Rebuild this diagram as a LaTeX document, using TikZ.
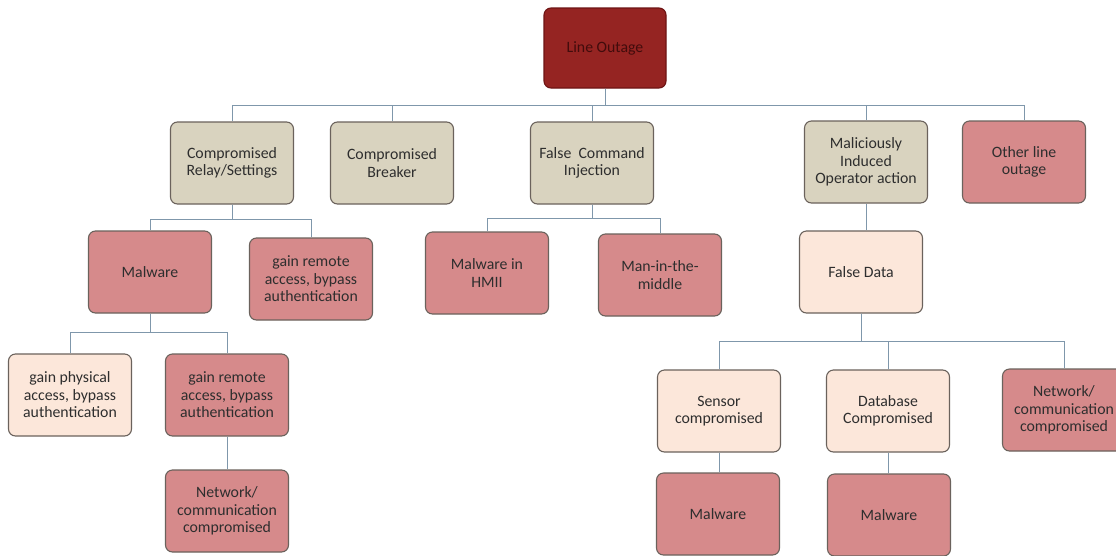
\documentclass[tikz,border=0pt]{standalone}
\usepackage{fontspec}
\setmainfont{Carlito}
\definecolor{rootfill}{HTML}{952422}
\definecolor{rootline}{HTML}{6E1414}
\definecolor{tanfill}{HTML}{D9D3BF}
\definecolor{pinkfill}{HTML}{D68A8B}
\definecolor{peachfill}{HTML}{FCE7DA}
\definecolor{boxline}{HTML}{6B625C}
\definecolor{connline}{HTML}{7F97AB}
\definecolor{txt}{HTML}{2E2E2E}
\tikzset{
  box/.style={draw=boxline, rounded corners=7pt, line width=1.1pt,
    minimum width=123pt, minimum height=82pt, align=center,
    text=txt, font=\fontsize{15.8}{17.5}\selectfont},
  rootbox/.style={box, fill=rootfill, draw=rootline, minimum width=122pt,
    minimum height=80pt, text=rootline!60!black},
  tanbox/.style={box, fill=tanfill},
  pinkbox/.style={box, fill=pinkfill},
  peachbox/.style={box, fill=peachfill},
  conn/.style={draw=connline, line width=1pt}
}
\begin{document}
\begin{tikzpicture}[x=1pt,y=-1pt]
  \clip (0,0) rectangle (1116,555);
  \fill[white] (0,0) rectangle (1116,555);
  % top
  \node[rootbox] (root) at (605,48) {Line Outage};
  % first level
  \node[tanbox] (relay) at (232,163) {Compromised\\Relay/Settings};
  \node[tanbox] (breaker) at (392,163) {Compromised\\Breaker};
  \node[tanbox] (fci) at (592,163) {False\ \ Command\\Injection};
  \node[tanbox] (oper) at (866,162) {Maliciously\\Induced\\Operator action};
  \node[pinkbox] (other) at (1024,162) {Other line\\outage};
  % second level
  \node[pinkbox] (malA) at (150,272) {Malware};
  \node[pinkbox] (remA) at (311,279) {gain remote\\access, bypass\\authentication};
  \node[pinkbox] (hmi) at (487,273) {Malware in\\HMII};
  \node[pinkbox] (mitm) at (660,275) {Man-in-the-\\middle};
  \node[peachbox] (fdata) at (861,272) {False Data};
  % third level
  \node[peachbox] (phys) at (70,395) {gain physical\\access, bypass\\authentication};
  \node[pinkbox] (remB) at (227,395) {gain remote\\access, bypass\\authentication};
  \node[pinkbox] (netA) at (227,511) {Network/\\communication\\compromised};
  \node[peachbox] (sens) at (719,411) {Sensor\\compromised};
  \node[peachbox] (dbase) at (888,411) {Database\\Compromised};
  \node[pinkbox] (netB) at (1064,410) {Network/\\communication\\compromised};
  \node[pinkbox] (malB) at (718,514) {Malware};
  \node[pinkbox] (malC) at (889,515) {Malware};
  % connectors
  \foreach \n in {relay,breaker,fci,oper,other}
    \draw[conn] (root.south) -- ++(0,17) -| (\n.north);
  \foreach \n in {malA,remA}
    \draw[conn] (relay.south) -- ++(0,15) -| (\n.north);
  \foreach \n in {hmi,mitm}
    \draw[conn] (fci.south) -- ++(0,14) -| (\n.north);
  \foreach \n in {phys,remB}
    \draw[conn] (malA.south) -- ++(0,19) -| (\n.north);
  \foreach \n in {sens,dbase,netB}
    \draw[conn] (fdata.south) -- ++(0,28) -| (\n.north);
  \draw[conn] (oper.south) -- (fdata.north -| oper.south);
  \draw[conn] (remB.south) -- (netA.north);
  \draw[conn] (sens.south) -- (malB.north -| sens.south);
  \draw[conn] (dbase.south) -- (malC.north -| dbase.south);
\end{tikzpicture}
\end{document}
